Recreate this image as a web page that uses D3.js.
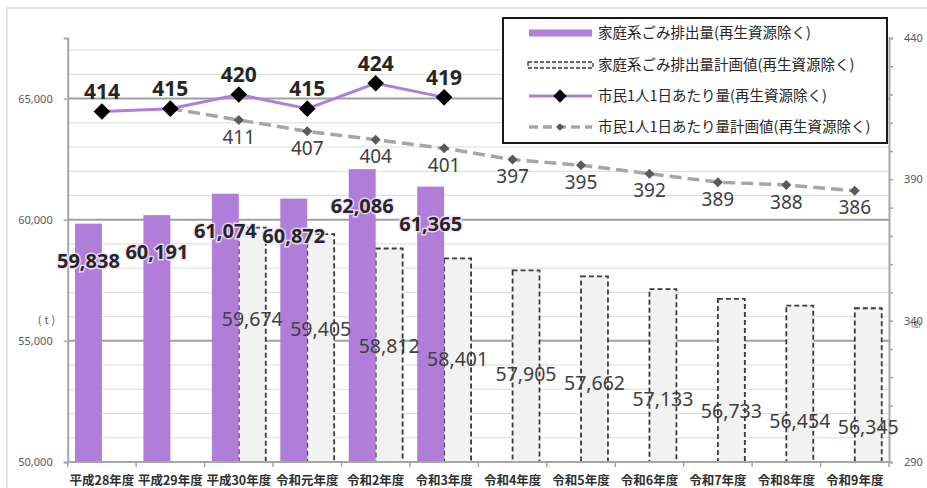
<!DOCTYPE html>
<html>
<head>
<meta charset="utf-8">
<script src="https://cdn.jsdelivr.net/npm/d3@7"></script>
<style>
  body { margin: 0; background: #fff; }
  svg { display: block; }
</style>
</head>
<body>
<svg id="chart" width="927" height="488"></svg>
<script>
// data
var years = ["平成28年度", "平成29年度", "平成30年度", "令和元年度", "令和2年度", "令和3年度",
             "令和4年度", "令和5年度", "令和6年度", "令和7年度", "令和8年度", "令和9年度"];
var actualTons = [59838, 60191, 61074, 60872, 62086, 61365, null, null, null, null, null, null];
var planTons   = [null, null, 59674, 59405, 58812, 58401, 57905, 57662, 57133, 56733, 56454, 56345];
var actualGrams = [414, 415, 420, 415, 424, 419, null, null, null, null, null, null];
var planGrams   = [null, 415, 411, 407, 404, 401, 397, 395, 392, 389, 388, 386];
var leftTicks = [50000, 55000, 60000, 65000];
var rightTicks = [290, 340, 390, 440];
var legendLabels = ["家庭系ごみ排出量(再生資源除く)", "家庭系ごみ排出量計画値(再生資源除く)",
                    "市民1人1日あたり量(再生資源除く)", "市民1人1日あたり量計画値(再生資源除く)"];

var PURPLE = "#b07ed8",
    NUM_FONT = "'Noto Sans', 'Open Sans', sans-serif",
    JP_FONT = "'Noto Sans CJK JP', sans-serif";

var svg = d3.select("#chart");
// NOTE: "top" is taken by window.top, so plot edges get their own names
var plotL = 67.7, plotR = 889, plotT = 38, plotB = 462;

// outer frame
svg.append("rect")
    .attr("x", 7).attr("y", 8).attr("width", 940).attr("height", 500)
    .attr("fill", "none").attr("stroke", "#d9d9d9").attr("stroke-width", 1.5);

var x0 = d3.scaleBand().domain(years).range([plotL, plotR]);
var x1 = d3.scaleBand().domain(["actual", "plan"]).range([0, x0.bandwidth()]).paddingOuter(0.27);
var yL = d3.scaleLinear().domain([50000, 67500]).range([plotB, plotT]);
var yR = d3.scaleLinear().domain([290, 440]).range([plotB, plotT]);

// gridlines
var grid = svg.append("g");
d3.range(51000, 67001, 1000).forEach(function (v) {
    var major = v % 5000 === 0;
    grid.append("line")
        .attr("x1", plotL).attr("x2", plotR)
        .attr("y1", yL(v)).attr("y2", yL(v))
        .attr("stroke", major ? "#a0a0a0" : "#dcdcdc")
        .attr("stroke-width", major ? 2 : 1);
});

// bars
var idx = d3.range(years.length);
svg.append("g").selectAll("rect")
    .data(idx.filter(function (i) { return planTons[i] != null; }))
    .join("rect")
    .attr("x", function (i) { return x0(years[i]) + x1("plan"); })
    .attr("y", function (i) { return yL(planTons[i]); })
    .attr("width", x1.bandwidth())
    .attr("height", function (i) { return plotB - yL(planTons[i]); })
    .attr("fill", "#f2f2f2")
    .attr("stroke", "#3a3a3a")
    .attr("stroke-width", 1.8)
    .attr("stroke-dasharray", "5,3");

svg.append("g").selectAll("rect")
    .data(idx.filter(function (i) { return actualTons[i] != null; }))
    .join("rect")
    .attr("x", function (i) { return x0(years[i]) + x1("actual"); })
    .attr("y", function (i) { return yL(actualTons[i]); })
    .attr("width", x1.bandwidth())
    .attr("height", function (i) { return plotB - yL(actualTons[i]); })
    .attr("fill", PURPLE);

// axes
var axisColor = "#a6a6a6";
var gx = svg.append("g").attr("transform", "translate(0," + plotB + ")");
gx.append("line").attr("x1", plotL).attr("x2", plotR)
    .attr("stroke", axisColor).attr("stroke-width", 2);
gx.selectAll("line.tick")
    .data(d3.range(years.length + 1))
    .join("line").attr("class", "tick")
    .attr("x1", function (i) { return plotL + i * x0.step(); })
    .attr("x2", function (i) { return plotL + i * x0.step(); })
    .attr("y1", 0).attr("y2", 5)
    .attr("stroke", axisColor).attr("stroke-width", 1.5);
gx.selectAll("text")
    .data(years)
    .join("text")
    .attr("x", function (d) { return x0(d) + x0.bandwidth() / 2; })
    .attr("y", 19)
    .attr("dy", "0.35em")
    .attr("text-anchor", "middle")
    .attr("font-family", JP_FONT)
    .attr("font-size", 12.5)
    .attr("font-weight", "bold")
    .attr("fill", "#303030")
    .text(function (d) { return d; });

var gl = svg.append("g").attr("transform", "translate(" + plotL + ",0)")
    .call(d3.axisLeft(yL).tickValues(leftTicks).tickSize(4).tickPadding(11).tickFormat(d3.format(",")));
gl.select(".domain").attr("stroke", axisColor).attr("stroke-width", 2);
gl.selectAll(".tick line").attr("stroke", axisColor).attr("stroke-width", 1.5);
gl.selectAll("text").attr("font-family", NUM_FONT).attr("font-size", 11).attr("fill", "#595959");

var gr = svg.append("g").attr("transform", "translate(" + plotR + ",0)")
    .call(d3.axisRight(yR).tickValues(d3.range(290, 441, 10)).tickSize(4).tickPadding(11)
        .tickFormat(function (d) { return rightTicks.indexOf(d) >= 0 ? d : ""; }));
gr.select(".domain").attr("stroke", axisColor).attr("stroke-width", 2);
gr.selectAll(".tick line").attr("stroke", axisColor).attr("stroke-width", 1.5);
gr.selectAll("text").attr("font-family", NUM_FONT).attr("font-size", 11).attr("fill", "#595959");

// units
svg.append("text").attr("x", 48).attr("y", yL(55000) - 17).attr("text-anchor", "middle")
    .attr("font-family", JP_FONT).attr("font-size", 11).attr("fill", "#595959")
    .attr("letter-spacing", 3).text("(t)");
svg.append("text").attr("x", 916).attr("y", yR(340) + 5).attr("text-anchor", "middle")
    .attr("font-family", JP_FONT).attr("font-size", 8).attr("fill", "#595959")
    .text("(g)");

// bar labels
var cx = function (i) { return x0(years[i]) + x0.bandwidth() / 2; };
svg.append("g").selectAll("text")
    .data(idx.filter(function (i) { return planTons[i] != null; }))
    .join("text")
    .attr("x", function (i) { return x0(years[i]) + x1("plan") + x1.bandwidth() / 2; })
    .attr("y", function (i) { return yL(planTons[i]) + 85.7 + 3 * i; })
    .attr("dy", "0.35em")
    .attr("text-anchor", "middle")
    .attr("font-family", NUM_FONT)
    .attr("font-size", 19.5)
    .attr("fill", "#404040")
    .text(function (i) { return d3.format(",")(planTons[i]); });

svg.append("g").selectAll("text")
    .data(idx.filter(function (i) { return actualTons[i] != null; }))
    .join("text")
    .attr("x", function (i) { return x0(years[i]) + x1("actual") + x1.bandwidth() / 2; })
    .attr("y", function (i) { return yL(actualTons[i]) + 37; })
    .attr("dy", "0.35em")
    .attr("text-anchor", "middle")
    .attr("font-family", NUM_FONT)
    .attr("font-size", 20)
    .attr("font-weight", "bold")
    .attr("fill", "#262626")
    .attr("stroke", "rgba(240,228,250,0.85)")
    .attr("stroke-width", 3)
    .attr("paint-order", "stroke")
    .text(function (i) { return d3.format(",")(actualTons[i]); });

// lines
var diamond = function (area) { return d3.symbol(d3.symbolSquare, area)(); };

var planIdx = idx.filter(function (i) { return planGrams[i] != null; });
svg.append("path")
    .datum(planIdx)
    .attr("d", d3.line().x(cx).y(function (i) { return yR(planGrams[i]); }))
    .attr("fill", "none")
    .attr("stroke", "#a6a6a6")
    .attr("stroke-width", 3.5)
    .attr("stroke-dasharray", "12,6");
svg.append("g").selectAll("path")
    .data(planIdx.slice(1))
    .join("path")
    .attr("d", diamond(50))
    .attr("transform", function (i) { return "translate(" + cx(i) + "," + yR(planGrams[i]) + ") rotate(45)"; })
    .attr("fill", "#595959");
svg.append("g").selectAll("text")
    .data(planIdx.slice(1))
    .join("text")
    .attr("x", cx)
    .attr("y", function (i) { return yR(planGrams[i]) + 17; })
    .attr("dy", "0.35em")
    .attr("text-anchor", "middle")
    .attr("font-family", NUM_FONT)
    .attr("font-size", 19)
    .attr("fill", "#404040")
    .text(function (i) { return planGrams[i]; });

var actIdx = idx.filter(function (i) { return actualGrams[i] != null; });
svg.append("path")
    .datum(actIdx)
    .attr("d", d3.line().x(cx).y(function (i) { return yR(actualGrams[i]); }))
    .attr("fill", "none")
    .attr("stroke", PURPLE)
    .attr("stroke-width", 3);
svg.append("g").selectAll("path")
    .data(actIdx)
    .join("path")
    .attr("d", diamond(138))
    .attr("transform", function (i) { return "translate(" + cx(i) + "," + yR(actualGrams[i]) + ") rotate(45)"; })
    .attr("fill", "#000");
svg.append("g").selectAll("text")
    .data(actIdx)
    .join("text")
    .attr("x", cx)
    .attr("y", function (i) { return yR(actualGrams[i]) - 20; })
    .attr("dy", "0.35em")
    .attr("text-anchor", "middle")
    .attr("font-family", NUM_FONT)
    .attr("font-size", 21)
    .attr("font-weight", "bold")
    .attr("fill", "#262626")
    .text(function (i) { return actualGrams[i]; });

// legend
var lg = svg.append("g");
lg.append("rect")
    .attr("x", 503).attr("y", 18).attr("width", 384).attr("height", 125)
    .attr("fill", "#fff").attr("stroke", "#1a1a1a").attr("stroke-width", 2);
var rowY = [33, 65, 96, 127];
lg.append("rect").attr("x", 529).attr("y", rowY[0] - 3.5).attr("width", 63).attr("height", 7)
    .attr("fill", PURPLE);
lg.append("rect").attr("x", 528).attr("y", rowY[1] - 3).attr("width", 65).attr("height", 6)
    .attr("fill", "#f2f2f2").attr("stroke", "#3a3a3a").attr("stroke-width", 1.3)
    .attr("stroke-dasharray", "4,2");
lg.append("line").attr("x1", 529).attr("x2", 592).attr("y1", rowY[2]).attr("y2", rowY[2])
    .attr("stroke", PURPLE).attr("stroke-width", 3);
lg.append("path").attr("d", diamond(90))
    .attr("transform", "translate(560," + rowY[2] + ") rotate(45)").attr("fill", "#000");
lg.append("line").attr("x1", 529).attr("x2", 592).attr("y1", rowY[3]).attr("y2", rowY[3])
    .attr("stroke", "#a6a6a6").attr("stroke-width", 3.5).attr("stroke-dasharray", "9,5");
lg.append("path").attr("d", diamond(30))
    .attr("transform", "translate(560," + rowY[3] + ") rotate(45)").attr("fill", "#595959");
lg.selectAll("text")
    .data(legendLabels)
    .join("text")
    .attr("x", 598)
    .attr("y", function (d, i) { return rowY[i]; })
    .attr("dy", "0.35em")
    .attr("font-family", JP_FONT)
    .attr("font-size", 14.5)
    .attr("fill", "#262626")
    .text(function (d) { return d; });
</script>
</body>
</html>
